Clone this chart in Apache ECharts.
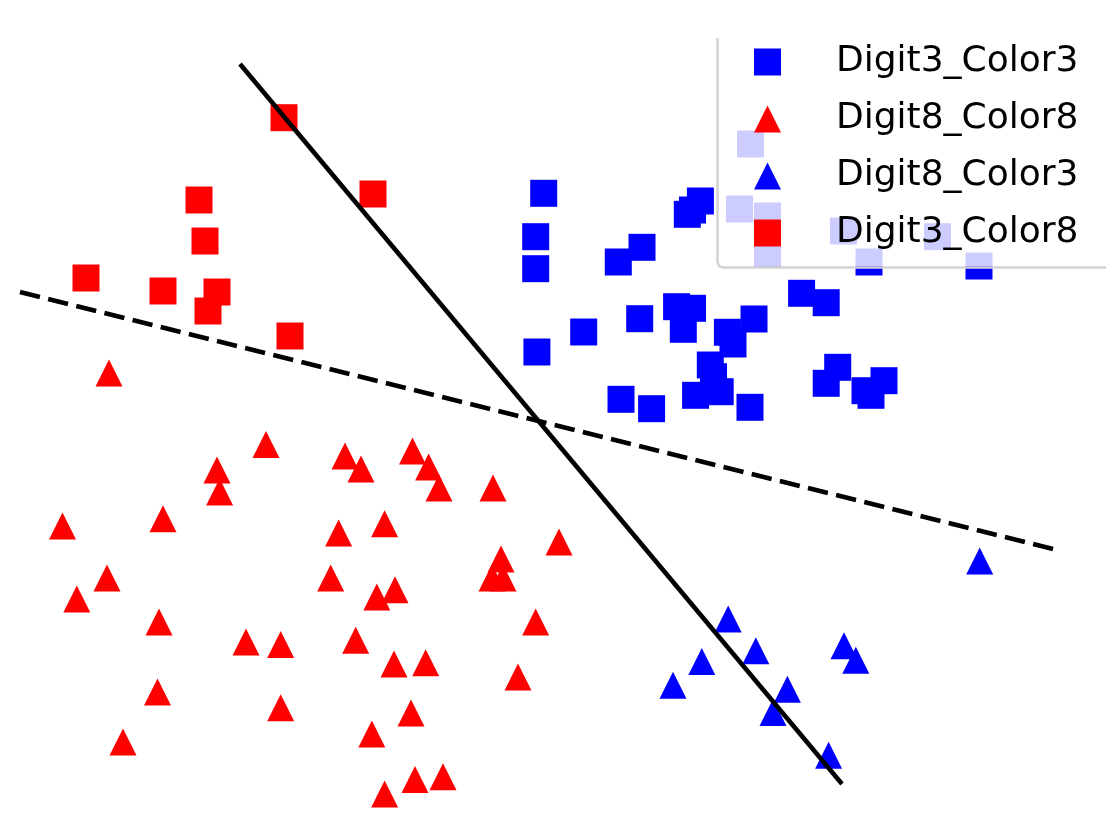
<!DOCTYPE html>
<html>
<head>
<meta charset="utf-8">
<script src="https://cdn.jsdelivr.net/npm/echarts@6/dist/echarts.min.js"></script>
<style>
  html, body { margin: 0; padding: 0; background: #ffffff; }
  #chart { width: 1118px; height: 834px; }
</style>
</head>
<body>
<div id="chart"></div>
<script>
// Series names (legend order)
const seriesNames = ['Digit3_Color3', 'Digit8_Color8', 'Digit8_Color3', 'Digit3_Color8'];

// Point coordinates in the plot's own (unitless) feature space
const digit3Color3 = [
  [543.7,193.3],[535.7,236.7],[535.7,268.7],[536.9,352],[583.7,332],[618.3,262],[642,247.3],
  [700.4,201],[692.5,210],[687.3,214.3],[639.7,318.7],[676.6,306.7],[692.5,308.3],[683.3,329.3],
  [754,319],[727.4,332.3],[733,344],[710.3,365],[713.5,376.7],[720.2,391.7],[695.6,395.3],
  [750,407.3],[621,399.3],[651.6,408.7],[801.6,293.3],[826.2,302.7],[837.7,367.3],[826.2,383.3],
  [884,380.7],[865,390.7],[871,395.3],[869,262],[979,266],[750.5,144],[739.5,209],[767.5,216],
  [767.5,253],[843.5,231],[937.5,236.7]
];
const digit8Color8 = [
  [266,444.4],[217,470],[219.6,492],[345,456],[361,469],[412.5,451],[428.6,467],[439,488],
  [493,488],[62.5,526],[163,518.7],[338.6,533],[384.6,523.7],[559,542],[501,559],[492,578],
  [503,578],[107,578],[76.8,599],[159,622],[330.7,578],[376.8,597],[395,589.7],[535.7,622],
  [246,642],[280.7,644.5],[355.7,640.3],[394,664],[425.7,662.8],[518,677],[157.5,692],
  [280.7,707.8],[411,713],[371.8,734],[123,742],[415,779.5],[443,776.7],[384.6,794],[109,373]
];
const digit8Color3 = [
  [979.7,561],[728.2,619],[755.8,650.7],[701.8,661.5],[673,685.3],[844,645.7],[855.8,660.3],
  [787.4,689.2],[773,712.5],[828.6,755.3]
];
const digit3Color8 = [
  [284,117.7],[373,194],[199,200],[205,241],[86,278],[163,291],[217,292],[208,311],[290,336]
];
// Decision boundaries
const solidBoundary = [[240,64],[842,784]];
const dashedBoundary = [[20,292],[1057,550]];

const chart = echarts.init(document.getElementById('chart'), null, { renderer: 'canvas' });

const BLUE = '#0000ff', RED = '#ff0000';
const MS = 27;

function scatter(name, data, symbol, color) {
  return {
    name: name, type: 'scatter', data: data, symbol: symbol, symbolSize: MS,
    itemStyle: { color: color, opacity: 1 }, z: 2, silent: true,
    emphasis: { disabled: true }
  };
}

chart.setOption({
  animation: false,
  backgroundColor: '#ffffff',
  textStyle: { fontFamily: 'DejaVu Sans' },
  grid: { left: 0, right: 0, top: 0, bottom: 0 },
  xAxis: { type: 'value', min: 0, max: 1118, show: false },
  yAxis: { type: 'value', min: 0, max: 834, inverse: true, show: false },
  legend: {
    data: seriesNames,
    orient: 'vertical',
    left: 717, top: 38,
    width: 388,
    padding: [4, 26, 13, 37],
    itemWidth: MS, itemHeight: MS,
    itemGap: 17,
    backgroundColor: 'rgba(255,255,255,0.8)',
    borderWidth: 0,
    selectedMode: false,
    z: 10,
    textStyle: {
      fontFamily: 'DejaVu Sans', fontSize: 36, color: '#000000',
      lineHeight: 40, padding: [0, 0, 0, 50]
    }
  },
  graphic: [{
    type: 'polyline',
    z: 100,
    shape: { points: [[717.5, 38], [717.5, 262], [719, 266], [722.5, 267.5], [1106, 267.5]] },
    style: { stroke: '#d4d4d4', lineWidth: 2.5, fill: null }
  }],
  series: [
    scatter(seriesNames[0], digit3Color3, 'rect', BLUE),
    scatter(seriesNames[1], digit8Color8, 'triangle', RED),
    scatter(seriesNames[2], digit8Color3, 'triangle', BLUE),
    scatter(seriesNames[3], digit3Color8, 'rect', RED),
    {
      type: 'line', data: solidBoundary, symbol: 'none', z: 5, silent: true,
      lineStyle: { color: '#000000', width: 4.6, type: 'solid', cap: 'butt' }
    },
    {
      type: 'line', data: dashedBoundary, symbol: 'none', z: 5, silent: true,
      lineStyle: { color: '#000000', width: 4.6, type: [20.5, 8.5], cap: 'butt' }
    }
  ]
});
</script>
</body>
</html>
